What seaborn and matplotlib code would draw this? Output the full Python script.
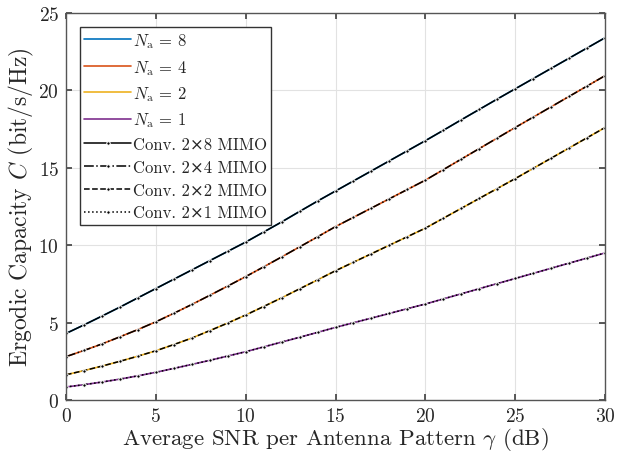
import numpy as np
import pandas as pd
import seaborn as sns
import matplotlib.pyplot as plt

snr_db = list(range(0, 31))

cap_8 = [4.30, 4.85, 5.42, 6.00, 6.60, 7.20, 7.80, 8.40, 9.00, 9.60, 10.20,
         10.85, 11.50, 12.18, 12.85, 13.50, 14.15, 14.80, 15.45, 16.10, 16.75,
         17.42, 18.10, 18.77, 19.44, 20.10, 20.76, 21.42, 22.08, 22.74, 23.40]
cap_4 = [2.80, 3.20, 3.62, 4.08, 4.55, 5.05, 5.60, 6.17, 6.76, 7.36, 7.97,
         8.60, 9.24, 9.89, 10.54, 11.20, 11.80, 12.40, 13.00, 13.60, 14.20,
         14.88, 15.56, 16.24, 16.92, 17.60, 18.27, 18.94, 19.61, 20.28, 20.95]
cap_2 = [1.63, 1.90, 2.19, 2.50, 2.83, 3.18, 3.58, 4.00, 4.48, 4.97, 5.49,
         6.04, 6.60, 7.18, 7.76, 8.35, 8.90, 9.45, 10.00, 10.55, 11.10,
         11.74, 12.38, 13.02, 13.66, 14.30, 14.96, 15.62, 16.28, 16.94, 17.60]
cap_1 = [0.84, 0.99, 1.16, 1.35, 1.56, 1.79, 2.04, 2.30, 2.56, 2.84, 3.12,
         3.43, 3.74, 4.05, 4.37, 4.69, 4.99, 5.29, 5.59, 5.90, 6.20,
         6.53, 6.86, 7.19, 7.52, 7.85, 8.18, 8.51, 8.84, 9.17, 9.50]

na_labels = [r'$N_\mathrm{a}$ = 8', r'$N_\mathrm{a}$ = 4',
             r'$N_\mathrm{a}$ = 2', r'$N_\mathrm{a}$ = 1']
conv_labels = ['Conv. 2×8 MIMO', 'Conv. 2×4 MIMO',
               'Conv. 2×2 MIMO', 'Conv. 2×1 MIMO']

sns.set_theme(style="ticks")
plt.rcParams['font.family'] = ['cmr10', 'DejaVu Serif']
plt.rcParams['mathtext.fontset'] = 'cm'
plt.rcParams['axes.formatter.use_mathtext'] = True

all_caps = [cap_8, cap_4, cap_2, cap_1]
df = pd.concat([pd.DataFrame({'snr': snr_db, 'cap': c, 'na': na_labels[i],
                              'conv': conv_labels[i]})
                for i, c in enumerate(all_caps)])

fig = plt.figure(figsize=(6.18, 4.56), dpi=100)
ax = fig.add_axes([0.1068, 0.1206, 0.8722, 0.8487])

# proposed scheme, colored lines (MATLAB default colours)
matlab_cols = ['#0072BD', '#D95319', '#EDB120', '#7E2F8E']
for lab, col in zip(na_labels, matlab_cols):
    sub = df[df['na'] == lab]
    sns.lineplot(data=sub, x='snr', y='cap', color=col, lw=1.2, ax=ax, label=lab)

# conventional MIMO, black lines with dot markers
styles = ['-', '-.', '--', ':']
for lab, ls in zip(conv_labels, styles):
    sub = df[df['conv'] == lab]
    sns.lineplot(data=sub, x='snr', y='cap', color='black', lw=1.1, linestyle=ls,
                 marker='.', markersize=5, ax=ax, label=lab)

ax.set_xlim(0, 30)
ax.set_ylim(0, 25)
ax.set_xticks([0, 5, 10, 15, 20, 25, 30])
ax.set_yticks([0, 5, 10, 15, 20, 25])
ax.grid(True, color='#e2e2e2', lw=0.8)
ax.tick_params(direction='in', top=True, right=True, labelsize=14,
               color='#444444', length=4, pad=5)
for sp in ax.spines.values():
    sp.set_color('#555555')
    sp.set_linewidth(1.0)
ax.set_xlabel(r'Average SNR per Antenna Pattern $\gamma$ (dB)', fontsize=16.5, labelpad=0)
ax.set_ylabel(r'Ergodic Capacity $C$ (bit/s/Hz)', fontsize=17, labelpad=2)

leg = ax.legend(loc='upper left', fontsize=12, handlelength=2.8, handletextpad=0.1,
                borderaxespad=0.85, fancybox=False, framealpha=1, edgecolor='#333333',
                labelspacing=0.45, borderpad=0.25)
leg.get_frame().set_linewidth(1.0)

fig.savefig('out.png', dpi=100)
